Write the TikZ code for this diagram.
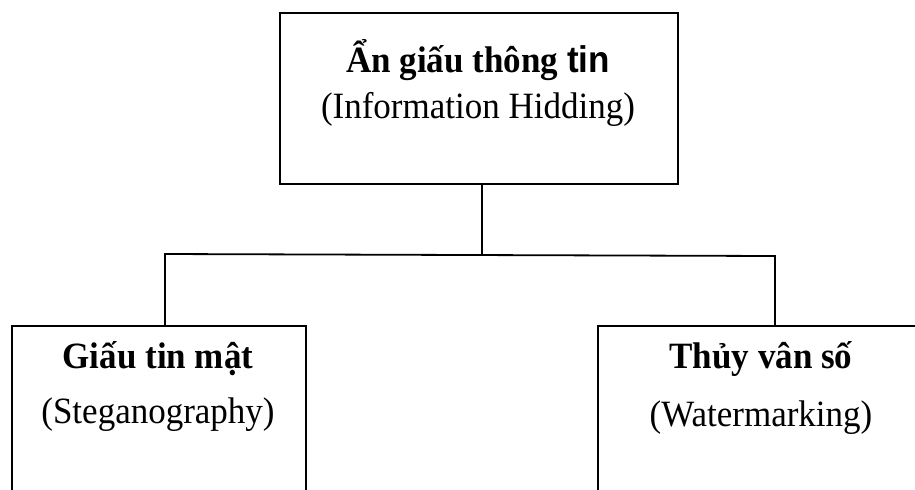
\documentclass[tikz,border=0pt]{standalone}
\usepackage{fontspec}
\setmainfont{Liberation Serif}
\setsansfont{Liberation Sans}
\usetikzlibrary{positioning}
\newcommand{\keodoc}[1]{\scalebox{1}[1.06]{#1}}

\begin{document}
\begin{tikzpicture}[x=0.5pt, y=-0.5pt, font=\fontsize{17.5}{21}\selectfont,
    every node/.style={align=center},
    khung/.style={draw, line width=0.9pt, inner sep=0pt, anchor=north west},
    ten/.style={anchor=base, font=\fontsize{17.5}{21}\selectfont\bfseries},
    phu/.style={anchor=base},
    duong/.style={line width=0.9pt}]
  \useasboundingbox (0,0) rectangle (915,489);
  \clip (0,0) rectangle (915,489);
  % o tren cung
  \node[khung, minimum width=199pt, minimum height=85.5pt] (goc) at (279,12) {};
  \node[ten] (gocTen) at (478,72) {\keodoc{Ẩn giấu thông {\sffamily tin}}};
  \node[phu] (gocPhu) at (478,118) {\keodoc{(Information Hidding)}};
  % hai nhanh duoi
  \node[khung, minimum width=147pt, minimum height=100pt] (trai) at (11,325) {};
  \node[ten] (traiTen) at (158,368) {\keodoc{Giấu tin mật}};
  \node[phu] (traiPhu) at (158,423) {\keodoc{(Steganography)}};
  \node[khung, minimum width=164pt, minimum height=100pt] (phai) at (597,325) {};
  \node[ten] (phaiTen) at (761,368) {\keodoc{Thủy vân số}};
  \node[phu] (phaiPhu) at (761,426) {\keodoc{(Watermarking)}};
  % duong noi
  \coordinate (reTrai) at (165,254);
  \coordinate (reGiua) at (482,255);
  \coordinate (rePhai) at (775,256);
  \draw[duong] (goc.south -| reGiua) -- (reGiua);
  \draw[duong] (trai.north -| reTrai) -- (reTrai) -- (rePhai) -- (phai.north -| rePhai);
\end{tikzpicture}
\end{document}
